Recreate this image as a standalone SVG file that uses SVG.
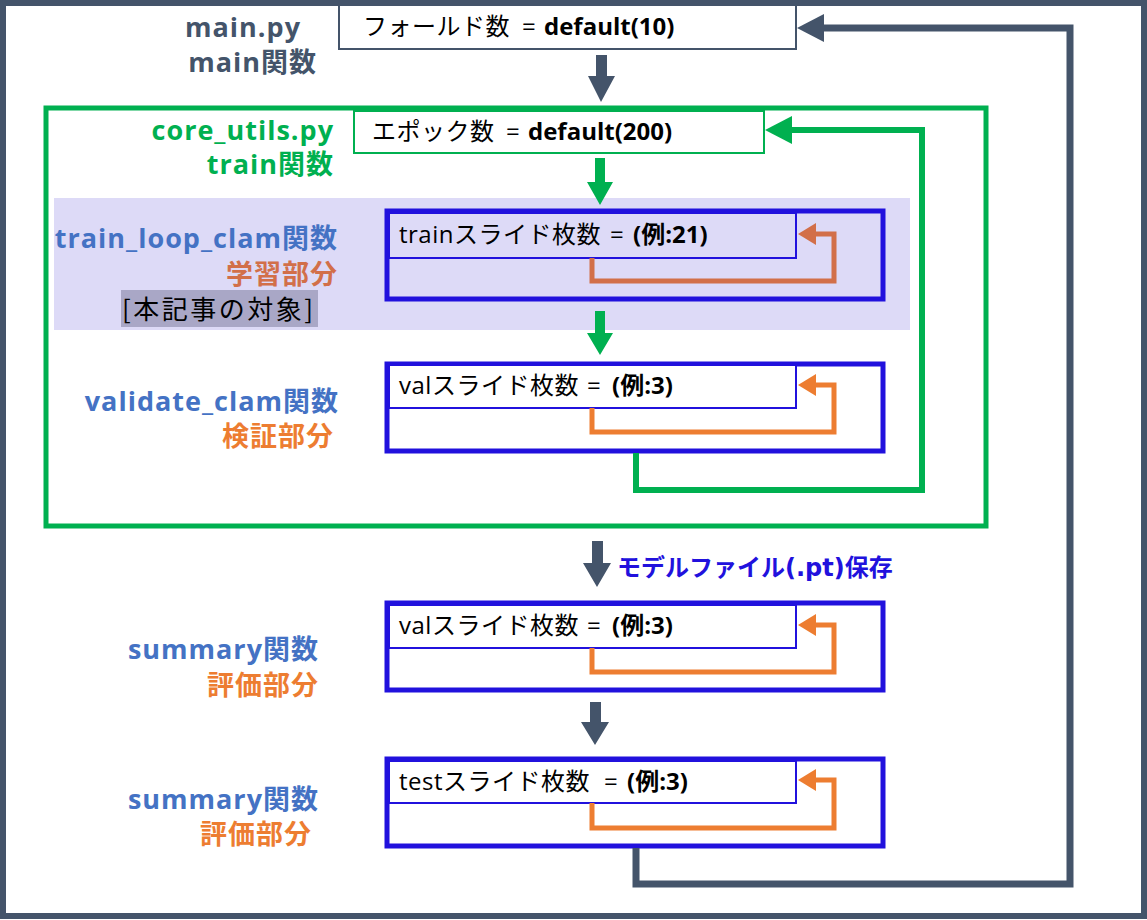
<svg xmlns="http://www.w3.org/2000/svg" width="1147" height="920" viewBox="0 0 1147 920">
<defs>
<style>
.lbl{font-family:"Open Sans","Noto Sans CJK JP",sans-serif;font-weight:bold;font-size:27px;letter-spacing:1px;text-anchor:end}
.nt{font-family:"Open Sans","Noto Sans CJK JP",sans-serif;font-size:24px;fill:#000}
.ls{letter-spacing:0.5px}
.b{font-weight:bold}
.blue{fill:#4472C4}.org{fill:#ED7D31}.rorg{fill:#D26F49}.grn{fill:#00B050}.slt{fill:#44546A}
.box{fill:none;stroke:#2111DD;stroke-width:5}
.inner{fill:#fff;stroke:#2111DD;stroke-width:2}
.loopO{fill:none;stroke:#ED7D31;stroke-width:5}
</style>
<marker id="ahO" markerUnits="userSpaceOnUse" markerWidth="18" markerHeight="22" refX="0" refY="11" orient="auto" viewBox="0 0 18 22"><path d="M0,0 L18,11 L0,22 Z" fill="#ED7D31"/></marker>
<marker id="ahR" markerUnits="userSpaceOnUse" markerWidth="18" markerHeight="22" refX="0" refY="11" orient="auto" viewBox="0 0 18 22"><path d="M0,0 L18,11 L0,22 Z" fill="#D26F49"/></marker>
<marker id="ahG" markerUnits="userSpaceOnUse" markerWidth="27" markerHeight="28" refX="0" refY="14" orient="auto" viewBox="0 0 27 28"><path d="M0,0 L27,14 L0,28 Z" fill="#00B050"/></marker>
<marker id="ahS" markerUnits="userSpaceOnUse" markerWidth="27" markerHeight="28" refX="0" refY="14" orient="auto" viewBox="0 0 27 28"><path d="M0,0 L27,14 L0,28 Z" fill="#44546A"/></marker>
</defs>
<rect width="1147" height="920" fill="#fff"/>
<g id="frame-main">
<rect x="3" y="3" width="1141" height="913" fill="none" stroke="#44546A" stroke-width="6"/>
<text class="lbl slt" x="301" y="37">main.py</text>
<text class="lbl slt" x="317" y="72">main関数</text>
</g>
<g id="node-fold">
<rect x="339" y="5" width="457" height="44" fill="#fff" stroke="#44546A" stroke-width="2"/>
<text class="nt" y="35"><tspan class="ls" x="363">フォールド数 </tspan><tspan x="522">= </tspan><tspan class="b" x="544">default(10)</tspan></text>
</g>
<g id="frame-train">
<rect x="46" y="108" width="940" height="418" fill="none" stroke="#00B050" stroke-width="5"/>
<text class="lbl grn" x="334" y="140">core_utils.py</text>
<text class="lbl grn" x="334" y="174">train関数</text>
</g>
<g id="node-epoch">
<rect x="354" y="111" width="410" height="42" fill="#fff" stroke="#00B050" stroke-width="2"/>
<text class="nt" y="140"><tspan class="ls" x="372">エポック数 </tspan><tspan x="506">= </tspan><tspan class="b" x="528">default(200)</tspan></text>
</g>
<g id="band-train-loop">
<rect x="54" y="198" width="856" height="132" fill="#DDDAF7"/>
<text class="lbl blue" x="338" y="248">train_loop_clam関数</text>
<text class="lbl rorg" x="338" y="284">学習部分</text>
<rect x="121" y="290" width="197" height="37" fill="#A9A7C6"/>
<text x="122" y="319" style="font-family:'Noto Sans CJK JP',sans-serif;font-size:26px;letter-spacing:2.5px;fill:#000">[本記事の対象]</text>
</g>
<g id="node-train-slides">
<rect class="box" x="387" y="211" width="496" height="88"/>
<rect x="389" y="213" width="407" height="45" fill="none" stroke="#2111DD" stroke-width="2"/>
<text class="nt" y="243"><tspan class="ls" x="399">trainスライド枚数 </tspan><tspan x="610">= </tspan><tspan class="b" x="633">(例:21)</tspan></text>
</g>
<g id="node-val-slides">
<text class="lbl blue" x="339" y="411">validate_clam関数</text>
<text class="lbl org" x="334" y="446">検証部分</text>
<rect class="box" x="387" y="364" width="496" height="87"/>
<rect class="inner" x="389" y="365" width="407" height="43"/>
<text class="nt" y="394"><tspan class="ls" x="399">valスライド枚数 </tspan><tspan x="587">= </tspan><tspan class="b" x="612">(例:3)</tspan></text>
</g>
<g id="node-summary-val">
<text class="lbl blue" x="319" y="659">summary関数</text>
<text class="lbl org" x="319" y="695">評価部分</text>
<rect class="box" x="387" y="603" width="496" height="87"/>
<rect class="inner" x="389" y="605" width="407" height="43"/>
<text class="nt" y="634"><tspan class="ls" x="399">valスライド枚数 </tspan><tspan x="587">= </tspan><tspan class="b" x="612">(例:3)</tspan></text>
</g>
<g id="node-summary-test">
<text class="lbl blue" x="319" y="809">summary関数</text>
<text class="lbl org" x="312" y="844">評価部分</text>
<rect class="box" x="387" y="759" width="496" height="87"/>
<rect class="inner" x="389" y="761" width="407" height="42"/>
<text class="nt" y="790"><tspan class="ls" x="399">testスライド枚数 </tspan><tspan x="604">= </tspan><tspan class="b" x="627">(例:3)</tspan></text>
</g>
<g id="connectors">
<polygon points="596,55 607,55 607,76 615,76 601,102 588,76 596,76" fill="#44546A"/>
<polygon points="595,158 605,158 605,182 613,182 600,205 587,182 595,182" fill="#00B050"/>
<polygon points="595,311 605,311 605,333 613,333 600,355 587,333 595,333" fill="#00B050"/>
<polygon points="592,541 603,541 603,563 611,563 597,587 583,563 592,563" fill="#44546A"/>
<polygon points="590,702 601,702 601,722 609,722 595,745 581,722 590,722" fill="#44546A"/>
<text x="617" y="576" style="font-family:'DejaVu Sans','Noto Sans CJK JP',sans-serif;font-weight:bold;font-size:24px;fill:#2111DD">モデルファイル(.pt)保存</text>
<path d="M592,258 V281 H834 V234 H816" fill="none" stroke="#D26F49" stroke-width="5" marker-end="url(#ahR)"/>
<path class="loopO" d="M592,408 V432 H834 V385 H816" marker-end="url(#ahO)"/>
<path class="loopO" d="M592,648 V672 H834 V625 H816" marker-end="url(#ahO)"/>
<path class="loopO" d="M592,803 V828 H834 V780 H816" marker-end="url(#ahO)"/>
<path d="M636,453 V490 H922 V130 H792" fill="none" stroke="#00B050" stroke-width="6" marker-end="url(#ahG)"/>
<path d="M636,848 V884 H1070 V28 H824" fill="none" stroke="#44546A" stroke-width="7" marker-end="url(#ahS)"/>
</g>
</svg>
